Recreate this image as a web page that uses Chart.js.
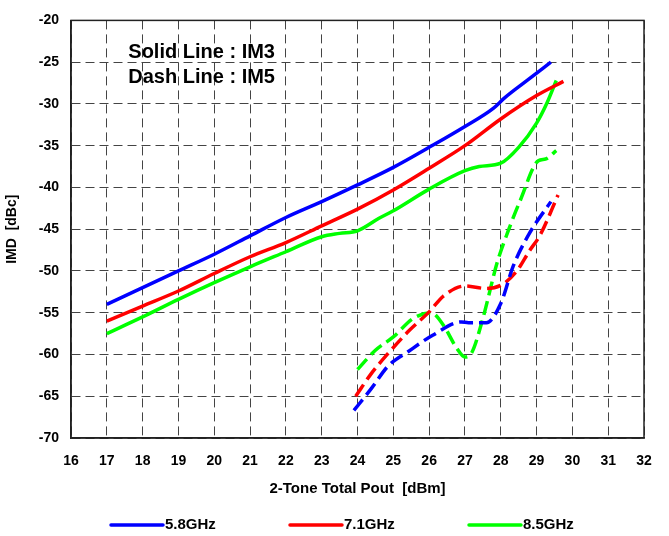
<!DOCTYPE html>
<html>
<head>
<meta charset="utf-8">
<script src="https://cdn.jsdelivr.net/npm/chart.js@4/dist/chart.umd.min.js"></script>
<style>
    html, body { margin: 0; padding: 0; background: #fff; }
    #wrap { width: 669px; height: 536px; }
</style>
</head>
<body>
<div id="wrap"><canvas id="imdChart" width="669" height="536"></canvas></div>
<script>
// IMD vs 2-tone output power, solid = IM3, dashed = IM5
const freqLabels = ['5.8GHz', '7.1GHz', '8.5GHz'];
const freqColors = ['#0000ff', '#ff0000', '#00ff00'];

const im3X_58 = [17, 18, 19, 20, 21, 22, 23, 24, 25, 26, 27, 27.8, 28.1, 28.7, 29.4];
const im3Y_58 = [-54, -52, -50, -48, -45.8, -43.6, -41.7, -39.7, -37.6, -35.2, -32.7, -30.5, -29.3, -27.3, -25];

const im3X_71 = [17, 18, 19, 20, 21, 22, 23, 24, 25, 26, 27, 28, 29, 29.75];
const im3Y_71 = [-56, -54.2, -52.4, -50.3, -48.3, -46.6, -44.6, -42.6, -40.3, -37.7, -35, -31.8, -29, -27.3];

const im3X_85 = [17, 18, 19, 20, 21, 22, 23, 23.5, 24, 24.6, 25, 26, 27, 27.4, 28, 28.5, 29, 29.3, 29.55];
const im3Y_85 = [-57.5, -55.5, -53.4, -51.4, -49.5, -47.7, -45.9, -45.5, -45.2, -43.7, -42.8, -40.2, -38, -37.5, -37.1, -35.2, -32.3, -29.8, -27.2];

const im5X_58 = [23.9, 24.4, 24.85, 25.4, 26.1, 26.9, 27.1, 27.6, 28, 28.35, 28.8, 29.4];
const im5Y_58 = [-66.7, -64, -61.4, -59.7, -57.7, -56.1, -56.2, -56.2, -53.9, -49.4, -45.5, -41.7];

const im5X_71 = [23.95, 24.4, 24.85, 25.45, 26, 26.4, 27, 27.6, 28.05, 28.45, 28.8, 29.1, 29.6];
const im5Y_71 = [-65, -62.2, -59.9, -57.1, -54.9, -53, -51.8, -52.1, -51.6, -50, -47.6, -45.7, -40.9];

const im5X_85 = [24, 24.5, 25, 25.55, 26.05, 26.4, 26.75, 27, 27.2, 27.5, 27.9, 28.2, 28.55, 29.05, 29.25, 29.55];
const im5Y_85 = [-61.8, -59.5, -57.9, -55.7, -55, -56.5, -59.1, -60.3, -59.7, -55.7, -49, -45.3, -41.5, -36.8, -36.6, -35.6];

const noteLines = ['Solid Line : IM3', 'Dash Line : IM5'];
const noteX = 17.6;
const noteY = [-23.85, -26.8];

const FONT = "'Liberation Sans', Arial, Helvetica, sans-serif";

function toPoints(xs, ys) {
    return xs.map((x, i) => ({ x: x, y: ys[i] }));
}

function series(label, color, xs, ys, dashed) {
    return {
        label: label,
        data: toPoints(xs, ys),
        borderColor: color,
        backgroundColor: color,
        borderWidth: 3.5,
        borderDash: dashed ? [14, 6] : [],
        borderCapStyle: 'butt',
        pointRadius: 0,
        cubicInterpolationMode: 'monotone',
        fill: false,
        isIM5: dashed
    };
}

// frame on all four sides + the two text notes
const framePlugin = {
    id: 'frame',
    afterDatasetsDraw(chart) {
        const { ctx, chartArea: a, scales } = chart;
        ctx.save();
        ctx.strokeStyle = '#222';
        ctx.lineWidth = 1.5;
        ctx.strokeRect(a.left, a.top, a.right - a.left, a.bottom - a.top);

        ctx.fillStyle = '#000';
        ctx.font = 'bold 20px ' + FONT;
        ctx.textAlign = 'left';
        ctx.textBaseline = 'middle';
        noteLines.forEach((t, i) => {
            ctx.fillText(t, scales.x.getPixelForValue(noteX), scales.y.getPixelForValue(noteY[i]));
        });
        ctx.restore();
    }
};

// legend row under the x axis title, IM3 traces only
const legendPlugin = {
    id: 'lineLegend',
    afterDraw(chart) {
        const { ctx } = chart;
        const y = 525;
        const startX = 111;
        const step = 179;
        const lineLen = 52;
        ctx.save();
        ctx.font = 'bold 15px ' + FONT;
        ctx.textBaseline = 'middle';
        ctx.textAlign = 'left';
        chart.data.datasets.filter(d => !d.isIM5).forEach((d, i) => {
            const x = startX + i * step;
            ctx.strokeStyle = d.borderColor;
            ctx.lineWidth = 3.5;
            ctx.lineCap = 'round';
            ctx.beginPath();
            ctx.moveTo(x, y);
            ctx.lineTo(x + lineLen, y);
            ctx.stroke();
            ctx.fillStyle = '#000';
            ctx.fillText(d.label, x + lineLen + 2, y);
        });
        ctx.restore();
    }
};

const ctx = document.getElementById('imdChart');
new Chart(ctx, {
    type: 'line',
    data: {
        datasets: [
            series(freqLabels[0], freqColors[0], im3X_58, im3Y_58, false),
            series(freqLabels[1], freqColors[1], im3X_71, im3Y_71, false),
            series(freqLabels[2], freqColors[2], im3X_85, im3Y_85, false),
            series(freqLabels[0] + ' IM5', freqColors[0], im5X_58, im5Y_58, true),
            series(freqLabels[1] + ' IM5', freqColors[1], im5X_71, im5Y_71, true),
            series(freqLabels[2] + ' IM5', freqColors[2], im5X_85, im5Y_85, true)
        ]
    },
    options: {
        responsive: false,
        animation: false,
        layout: { padding: { top: 15, right: 25, bottom: 36, left: 0 } },
        plugins: {
            legend: { display: false },
            tooltip: { enabled: false }
        },
        scales: {
            x: {
                type: 'linear',
                min: 16,
                max: 32,
                afterFit: (s) => { s.height = 62; },
                ticks: {
                    stepSize: 1,
                    padding: 15,
                    color: '#000',
                    font: { family: FONT, size: 14, weight: 'bold' }
                },
                grid: { color: '#444', lineWidth: 1, drawTicks: false },
                border: { color: '#222', width: 1.5, dash: [9, 5] },
                title: {
                    display: true,
                    text: '2-Tone Total Pout  [dBm]',
                    color: '#000',
                    padding: { top: 0, bottom: 2 },
                    font: { family: FONT, size: 15, weight: 'bold' }
                }
            },
            y: {
                min: -70,
                max: -20,
                afterFit: (s) => { s.width = 71; },
                ticks: {
                    stepSize: 5,
                    padding: 12,
                    color: '#000',
                    font: { family: FONT, size: 14, weight: 'bold' }
                },
                grid: { color: '#444', lineWidth: 1, drawTicks: false },
                border: { color: '#222', width: 1.5, dash: [9, 5] },
                title: {
                    display: true,
                    text: 'IMD  [dBc]',
                    color: '#000',
                    padding: { top: 4, bottom: 0 },
                    font: { family: FONT, size: 14, weight: 'bold' }
                }
            }
        }
    },
    plugins: [framePlugin, legendPlugin]
});
</script>
</body>
</html>
